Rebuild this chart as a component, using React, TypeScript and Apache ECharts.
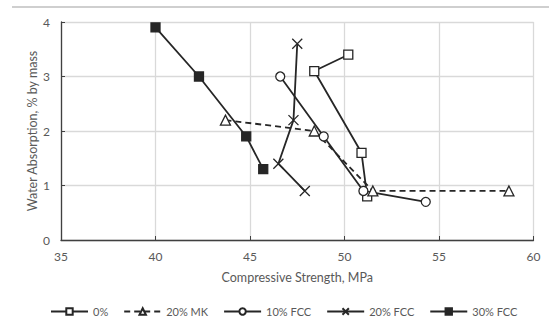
import React, { useEffect, useRef } from "react";
import * as echarts from "echarts";

const xTicks = [35, 40, 45, 50, 55, 60];
const yTicks = [0, 1, 2, 3, 4];
const seriesNames = ["0%", "20% MK", "10% FCC", "20% FCC", "30% FCC"];

const s0X = [50.2, 48.4, 50.9, 51.2];
const s0Y = [3.4, 3.1, 1.6, 0.8];
const mkX = [43.7, 48.4, 51.5, 58.7];
const mkY = [2.2, 2.0, 0.9, 0.9];
const f10X = [46.6, 48.9, 51.0, 54.3];
const f10Y = [3.0, 1.9, 0.9, 0.7];
const f20X = [47.5, 47.3, 46.5, 47.9];
const f20Y = [3.6, 2.2, 1.4, 0.9];
const f30X = [40.0, 42.3, 44.8, 45.7];
const f30Y = [3.9, 3.0, 1.9, 1.3];

const FONT = "Lato";
const INK = "#262626";
const LABEL = "#595959";

const pairs = (xs: number[], ys: number[]) => xs.map((x, i) => [x, ys[i]]);

export default function App() {
  const ref = useRef<HTMLDivElement>(null);
  useEffect(() => {
    if (!ref.current) return;
    const chart = echarts.init(ref.current, undefined, { renderer: "svg" });
    const mk = (
      name: string,
      data: number[][],
      symbol: string,
      size: number,
      fill: string,
      dashed = false
    ) => ({
      name,
      type: "line",
      data,
      symbol,
      symbolSize: size,
      showAllSymbol: true,
      lineStyle: { color: INK, width: 1.8, type: dashed ? [6, 4] : "solid" },
      itemStyle: { color: fill, borderColor: INK, borderWidth: 1.3 },
      emphasis: { disabled: true },
      z: 3,
    });
    chart.setOption({
      animation: false,
      textStyle: { fontFamily: FONT },
      graphic: [
        {
          type: "line",
          shape: { x1: 12, y1: 7, x2: 549, y2: 7 },
          style: { stroke: "#bfbfbf", lineWidth: 1.5 },
        },
      ],
      grid: { left: 61, right: 15.5, top: 22, bottom: 84 },
      xAxis: {
        type: "value",
        min: xTicks[0],
        max: xTicks[xTicks.length - 1],
        interval: 5,
        name: "Compressive Strength, MPa",
        nameLocation: "middle",
        nameGap: 31,
        nameMoveOverlap: false,
        nameTextStyle: { color: LABEL, fontSize: 12.5, fontFamily: FONT },
        axisLine: { show: true, lineStyle: { color: "#404040", width: 1.3 } },
        axisTick: { show: true, inside: true, length: 4, lineStyle: { color: "#404040" } },
        axisLabel: { color: LABEL, fontSize: 12, margin: 10, fontFamily: FONT },
        splitLine: { show: true, lineStyle: { color: "#d9d9d9", width: 1.3 } },
      },
      yAxis: {
        type: "value",
        min: yTicks[0],
        max: yTicks[yTicks.length - 1],
        interval: 1,
        name: "Water Absorption, % by mass",
        nameLocation: "middle",
        nameGap: 22,
        nameMoveOverlap: false,
        nameTextStyle: { color: LABEL, fontSize: 12.5, fontFamily: FONT },
        axisLine: { show: true, lineStyle: { color: "#404040", width: 1.3 } },
        axisTick: { show: true, inside: true, length: 4, lineStyle: { color: "#404040" } },
        axisLabel: { color: LABEL, fontSize: 12, margin: 11, fontFamily: FONT },
        splitLine: { show: true, lineStyle: { color: "#d9d9d9", width: 1.3 } },
      },
      legend: {
        data: seriesNames,
        left: 50,
        top: 306,
        width: 495,
        padding: 0,
        itemWidth: 37,
        itemHeight: 8,
        itemGap: 15,
        textStyle: { color: LABEL, fontSize: 11, fontFamily: FONT },
      },
      series: [
        mk(seriesNames[0], pairs(s0X, s0Y), "rect", 9, "#ffffff"),
        mk(seriesNames[1], pairs(mkX, mkY), "triangle", 10, "#ffffff", true),
        mk(seriesNames[2], pairs(f10X, f10Y), "circle", 9, "#ffffff"),
        mk(seriesNames[3], pairs(f20X, f20Y), "path://M0,0L10,10M10,0L0,10", 10, "#ffffff"),
        mk(seriesNames[4], pairs(f30X, f30Y), "rect", 9, INK),
      ],
    });
    return () => chart.dispose();
  }, []);
  return (
    <div
      ref={ref}
      style={{ position: "fixed", left: 0, top: 0, width: 549, height: 324, background: "#fff" }}
    />
  );
}
